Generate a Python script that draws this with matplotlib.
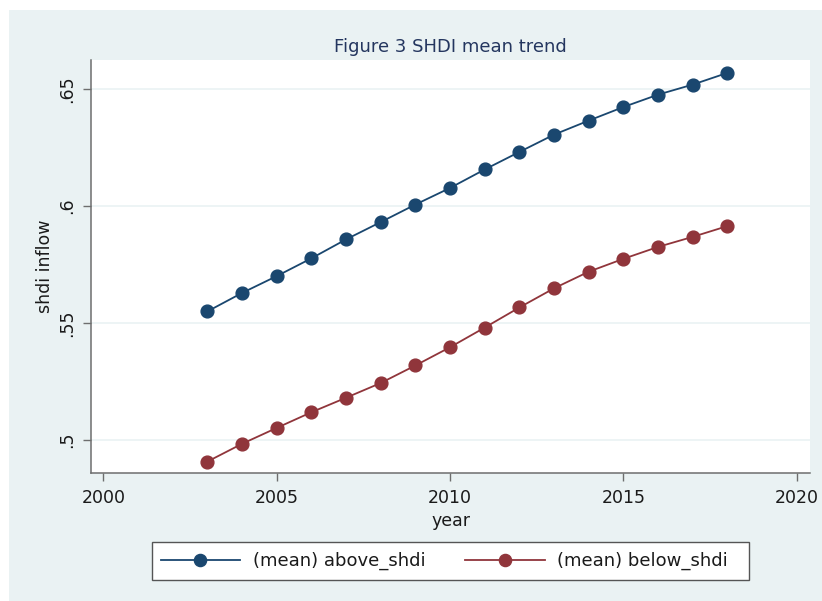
import matplotlib
matplotlib.use("Agg")
import matplotlib.pyplot as plt
from matplotlib.patches import Rectangle

years = list(range(2003, 2019))
above_shdi = [0.5550, 0.5629, 0.5701, 0.5777, 0.5858, 0.5932, 0.6007, 0.6078,
              0.6157, 0.6232, 0.6306, 0.6366, 0.6424, 0.6477, 0.6520, 0.6570]
below_shdi = [0.4908, 0.4984, 0.5052, 0.5119, 0.5181, 0.5244, 0.5319, 0.5397,
              0.5481, 0.5567, 0.5649, 0.5720, 0.5775, 0.5826, 0.5869, 0.5915]
series_labels = ["(mean) above_shdi", "(mean) below_shdi"]
x_ticks = [2000, 2005, 2010, 2015, 2020]
y_ticks = [0.5, 0.55, 0.6, 0.65]
y_ticklabels = [".5", ".55", ".6", ".65"]
title = "Figure 3 SHDI mean trend"
xlabel = "year"
ylabel = "shdi inflow"

W, H = 822, 601
BG = "#EAF2F3"
BLUE = "#1A476F"
RED = "#90353B"
TXT = "#1a1a1a"
AX = "#6e6e6e"

fig = plt.figure(figsize=(W / 100, H / 100), dpi=100, facecolor="white")
fig.patches.append(Rectangle((9 / W, 0), 1 - 9 / W, 1 - 10 / H, transform=fig.transFigure,
                             facecolor=BG, edgecolor="none", zorder=-10))

def fx(px):
    return px / W

def fy(py):
    return 1 - py / H

ax = fig.add_axes([fx(91), fy(473.3), fx(810) - fx(91), fy(60) - fy(473.3)])
ax.set_facecolor("white")

ax.plot(years, above_shdi, color=BLUE, lw=1.3, marker="o", ms=9.2,
        markeredgecolor=BLUE, label=series_labels[0], zorder=3)
ax.plot(years, below_shdi, color=RED, lw=1.3, marker="o", ms=9.2,
        markeredgecolor=RED, label=series_labels[1], zorder=3)

ax.set_xlim(1999.645, 2020.38)
ax.set_ylim(0.4858, 0.6625)
ax.set_xticks(x_ticks)
ax.set_xticklabels([str(t) for t in x_ticks])
ax.set_yticks(y_ticks)
ax.set_yticklabels(y_ticklabels, rotation=90, va="center")

for s in ["top", "right"]:
    ax.spines[s].set_visible(False)
for s in ["left", "bottom"]:
    ax.spines[s].set_color(AX)
    ax.spines[s].set_linewidth(1.1)

ax.tick_params(axis="both", direction="out", length=5.5, width=1.0, color=AX,
               labelsize=12.5, labelcolor=TXT, pad=5.5)
ax.yaxis.grid(True, color=BG, lw=1.2)
ax.set_axisbelow(True)

ax.set_xlabel(xlabel, fontsize=12.5, color=TXT, labelpad=4)
ax.set_ylabel(ylabel, fontsize=12.5, color=TXT, labelpad=3)

fig.text(fx(450.5), fy(51.7), title, ha="center", va="baseline",
         fontsize=13, color="#24365F")

# legend box
fig.patches.append(Rectangle((fx(151.7), fy(580)), fx(749) - fx(151.7), fy(541.7) - fy(580),
                             transform=fig.transFigure, facecolor="white",
                             edgecolor="#555555", lw=1.0, zorder=1))
leg = fig.legend(loc="center left", bbox_to_anchor=(fx(160.7), fy(561)),
                 ncol=2, frameon=False, fontsize=13, handlelength=4.4,
                 handletextpad=0.7, columnspacing=2.2, borderpad=0,
                 borderaxespad=0, numpoints=1, markerscale=0.95)
for t in leg.get_texts():
    t.set_color(TXT)
leg.set_zorder(5)

fig.savefig("out.png", dpi=100, facecolor="white")
